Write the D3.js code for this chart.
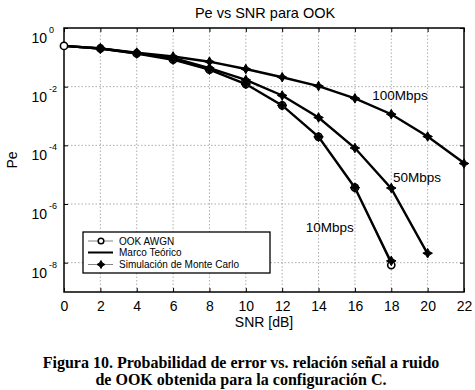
<!DOCTYPE html>
<html><head><meta charset="utf-8">
<script src="https://cdn.jsdelivr.net/npm/d3@7"></script>
<style>body{margin:0;background:#fff}svg{display:block}</style>
</head><body>
<script>
const snr = [0,2,4,6,8,10,12,14,16,18,20,22];
const theory10  = [0.245,0.2,0.135,0.083,0.038,0.0123,2.3e-3,1.95e-4,3.6e-6,1.0e-8];
const theory50  = [0.245,0.2,0.138,0.095,0.043,0.017,5.0e-3,8.9e-4,8.1e-5,3.4e-6,2.0e-8];
const theory100 = [0.245,0.2,0.145,0.107,0.071,0.040,0.021,0.0105,4.0e-3,1.15e-3,2.0e-4,2.5e-5];
const sim10  = [null,0.2,0.135,0.083,0.038,0.0123,2.3e-3,1.95e-4,3.6e-6,1.15e-8];
const sim50  = [null,0.2,0.138,0.095,0.043,0.017,5.0e-3,8.9e-4,8.1e-5,3.5e-6,2.1e-8];
const sim100 = [null,0.2,0.145,0.107,0.071,0.040,0.021,0.0105,4.0e-3,1.15e-3,2.0e-4,2.4e-5];
const awgn   = [0.245,0.2,0.135,0.083,0.038,0.0123,2.3e-3,1.95e-4,3.6e-6,8.3e-9];
const xTicks = [0,2,4,6,8,10,12,14,16,18,20,22];
const yExps = [0,-2,-4,-6,-8];
const rateLabels = [{t:"100Mbps",x:16.95,y:10**-2.45},{t:"50Mbps",x:18.1,y:10**-5.24},{t:"10Mbps",x:13.3,y:10**-6.97}];
const legendItems = ["OOK AWGN","Marco Teórico","Simulación de Monte Carlo"];
const title = "Pe vs SNR para OOK", xLabel = "SNR [dB]", yLabel = "Pe";
const caption = ["Figura 10. Probabilidad de error vs. relación señal a ruido","de OOK obtenida para la configuración C."];

const W=475,H=390, L=64,R=464,T=28,B=292;
const svg=d3.select("body").append("svg").attr("width",W).attr("height",H);
const x=d3.scaleLinear().domain([0,22]).range([L,R]);
const y=d3.scaleLog().domain([1e-9,1]).range([B,T]);
const sans="Liberation Sans, Arial, sans-serif";

// grid
const g=svg.append("g");
g.selectAll(".gx").data(xTicks.slice(1,-1)).join("line")
 .attr("x1",d=>x(d)).attr("x2",d=>x(d)).attr("y1",T).attr("y2",B)
 .attr("stroke","#888").attr("stroke-width",0.7).attr("stroke-dasharray","1.5,2");
g.selectAll(".gy").data(yExps.slice(1)).join("line")
 .attr("x1",L).attr("x2",R).attr("y1",d=>y(10**d)).attr("y2",d=>y(10**d))
 .attr("stroke","#888").attr("stroke-width",0.7).attr("stroke-dasharray","1.5,2");

// axes ticks (inward, both sides)
const tk=4;
svg.append("g").attr("transform",`translate(0,${B})`).call(d3.axisBottom(x).tickValues(xTicks).tickSizeInner(-tk).tickSizeOuter(0).tickPadding(9))
 .call(a=>{a.select(".domain").remove();a.selectAll("text").attr("font-family",sans).attr("font-size",14).attr("fill","#000");a.selectAll("line").attr("stroke","#000");});
svg.append("g").attr("transform",`translate(0,${T})`).call(d3.axisTop(x).tickValues(xTicks).tickSizeInner(-tk).tickSizeOuter(0).tickFormat(""))
 .call(a=>{a.select(".domain").remove();a.selectAll("line").attr("stroke","#000");});
svg.append("g").attr("transform",`translate(${L},0)`).call(d3.axisLeft(y).tickValues(yExps.map(e=>10**e)).tickSizeInner(-tk).tickSizeOuter(0).tickFormat(""))
 .call(a=>{a.select(".domain").remove();a.selectAll("line").attr("stroke","#000");});
svg.append("g").attr("transform",`translate(${R},0)`).call(d3.axisRight(y).tickValues(yExps.map(e=>10**e)).tickSizeInner(-tk).tickSizeOuter(0).tickFormat(""))
 .call(a=>{a.select(".domain").remove();a.selectAll("line").attr("stroke","#000");});
// y tick labels 10^e
const yl=svg.append("g");
yExps.forEach(e=>{
  const yy=y(10**e);
  yl.append("text").attr("font-family",sans).attr("font-size",14).attr("text-anchor","end").attr("x",47).attr("y",yy+15).text("10");
  yl.append("text").attr("font-family",sans).attr("font-size",9).attr("x",49).attr("y",yy+5).text(e===0?"0":"-"+(-e));
});
svg.append("rect").attr("x",L).attr("y",T).attr("width",R-L).attr("height",B-T).attr("fill","none").attr("stroke","#000").attr("stroke-width",1.5);

const line=d3.line().defined(d=>d[1]!=null).x(d=>x(d[0])).y(d=>y(d[1]));
const zipd=arr=>arr.map((v,i)=>[snr[i],v]);
const plot=svg.append("g");

// simulation thin lines
[sim10,sim50,sim100].forEach(s=>plot.append("path").attr("d",line(zipd(s))).attr("fill","none").attr("stroke","#666").attr("stroke-width",0.8));
// awgn thin line
plot.append("path").attr("d",line(zipd(awgn))).attr("fill","none").attr("stroke","#666").attr("stroke-width",0.8);
// theory thick
[theory10,theory50,theory100].forEach(s=>plot.append("path").attr("d",line(zipd(s))).attr("fill","none").attr("stroke","#000").attr("stroke-width",2.4));

// awgn circles
plot.selectAll(".c").data(zipd(awgn)).join("circle").attr("cx",d=>x(d[0])).attr("cy",d=>y(d[1])).attr("r",3.6)
 .attr("fill","#fff").attr("stroke","#000").attr("stroke-width",1.6);

// star markers
function star(sel,cx,cy,s){
  const k=0.36;
  const p=`M${cx},${cy-s} L${cx+s*k},${cy-s*k} L${cx+s},${cy} L${cx+s*k},${cy+s*k} L${cx},${cy+s} L${cx-s*k},${cy+s*k} L${cx-s},${cy} L${cx-s*k},${cy-s*k}Z`;
  sel.append("path").attr("d",p).attr("fill","#000").attr("stroke","#000").attr("stroke-width",1);
}
[sim10,sim50,sim100].forEach(s=>zipd(s).filter(d=>d[1]!=null).forEach(d=>star(plot,x(d[0]),y(d[1]),4.8)));

// rate labels
rateLabels.forEach(r=>svg.append("text").attr("x",x(r.x)).attr("y",y(r.y)).attr("font-family",sans).attr("font-size",13.5).text(r.t));

// legend
const lg=svg.append("g");
lg.append("rect").attr("x",83).attr("y",232).attr("width",187).attr("height",41).attr("fill","#fff").attr("stroke","#000").attr("stroke-width",1.3);
const ly=[241,252.5,264.5];
legendItems.forEach((t,i)=>{
  lg.append("line").attr("x1",88).attr("x2",113).attr("y1",ly[i]).attr("y2",ly[i]).attr("stroke",i===1?"#000":"#666").attr("stroke-width",i===1?2:0.8);
  if(i===0) lg.append("circle").attr("cx",101).attr("cy",ly[i]).attr("r",2.8).attr("fill","#fff").attr("stroke","#000").attr("stroke-width",1.5);
  if(i===2) star(lg,101,ly[i],4);
  lg.append("text").attr("x",119).attr("y",ly[i]+3.5).attr("font-family",sans).attr("font-size",10).text(t);
});

// titles
svg.append("text").attr("x",265).attr("y",18).attr("text-anchor","middle").attr("font-family",sans).attr("font-size",14.5).text(title);
svg.append("text").attr("x",264).attr("y",327).attr("text-anchor","middle").attr("font-family",sans).attr("font-size",14).text(xLabel);
svg.append("text").attr("transform","translate(17,160) rotate(-90)").attr("text-anchor","middle").attr("font-family",sans).attr("font-size",14).text(yLabel);
caption.forEach((c,i)=>svg.append("text").attr("x",241).attr("y",368+i*17).attr("text-anchor","middle")
  .attr("font-family","Liberation Serif, Times New Roman, serif").attr("font-weight","bold").attr("font-size",16).text(c));
</script>
</body></html>
